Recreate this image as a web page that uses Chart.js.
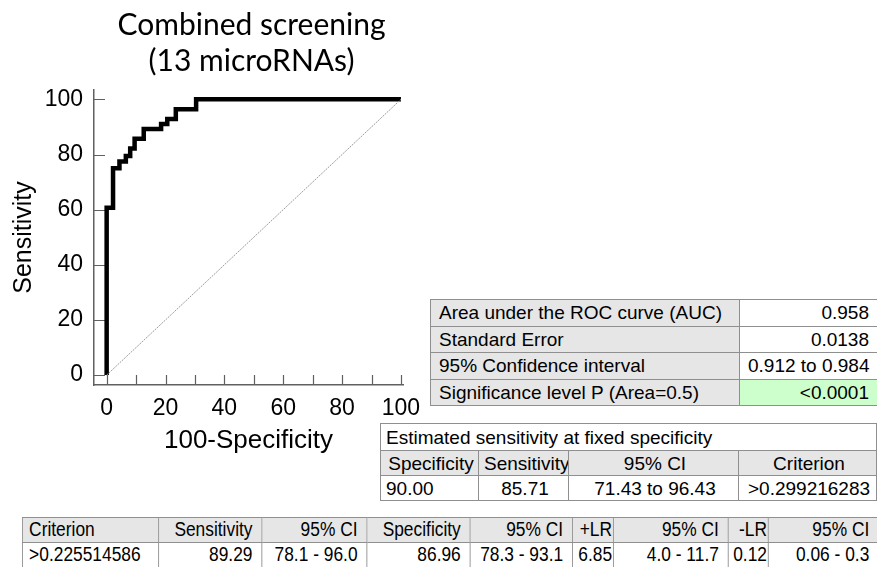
<!DOCTYPE html>
<html>
<head>
<meta charset="utf-8">
<title>Combined screening ROC</title>
<script src="https://cdn.jsdelivr.net/npm/chart.js@4.4.1/dist/chart.umd.min.js"></script>
<style>
    body { margin: 0; background: #fff; width: 877px; height: 567px; overflow: hidden; position: relative;
           font-family: "Liberation Sans", Arial, sans-serif; color: #000; }
    #roc { position: absolute; left: 0; top: 0; }
    table { position: absolute; border-collapse: collapse; table-layout: fixed; font-size: 19px; z-index: 2; background: #fff; }
    td { border: 1px solid #8f8f8f; padding: 0 8px; white-space: nowrap; overflow: hidden; line-height: 1; }
    .gray { background: #e6e6e6; }
    .green { background: #ccffcc; }
    .r { text-align: right; }
    .c { text-align: center; }
    #auc { left: 430px; top: 299px; width: 447px; }
    #auc tr { height: 26.5px; }
    #fixed { left: 380px; top: 423px; width: 496px; }
    #fixed tr { height: 25px; }
    #fixed tr:first-child { height: 27px; }
    #fixed td { padding: 0 2px 0 5px; }
    /* the bottom table uses a narrow face: lay it out wide, then squeeze it */
    #crit { left: 22px; top: 517px; width: 962px; font-size: 19.5px; transform: scaleX(0.89); transform-origin: 0 0; }
    #crit tr { height: 25px; }
    #crit td { padding: 0 10px 0 7px; text-align: right; }
    #crit td:first-child { text-align: left; }
    #crit td.tight { padding: 0 1px; }
</style>
</head>
<body>
<canvas id="roc" width="503" height="470"></canvas>

<table id="auc">
    <colgroup><col style="width:309px"><col style="width:138px"></colgroup>
    <tbody></tbody>
</table>

<table id="fixed">
    <colgroup><col style="width:98px"><col style="width:90px"><col style="width:170px"><col style="width:138px"></colgroup>
    <tbody></tbody>
</table>

<table id="crit">
    <colgroup>
        <col style="width:153px"><col style="width:116px"><col style="width:118px"><col style="width:116px">
        <col style="width:115px"><col style="width:46px"><col style="width:129px"><col style="width:45px"><col style="width:124px">
    </colgroup>
    <tbody></tbody>
</table>

<script>
// ROC curve (100-specificity vs sensitivity, %)
const rocFpr  = [0, 0, 2.17, 2.17, 4.35, 4.35, 6.52, 6.52, 8.0, 8.0, 9.5, 9.5, 12.6, 12.6, 18.5, 18.5, 20.6, 20.6, 23.5, 23.5, 30.4, 30.4, 100];
const rocSens = [0, 60.71, 60.71, 75.0, 75.0, 77.5, 77.5, 79.5, 79.5, 82.14, 82.14, 85.71, 85.71, 89.29, 89.29, 91.1, 91.1, 92.86, 92.86, 96.43, 96.43, 100, 100];

// chance line
const diagX = [0, 100];
const diagY = [0, 100];

// axis ticks
const xTickValues = [0, 20, 40, 60, 80, 100];
const xMinorTicks = [0, 10, 20, 30, 40, 50, 60, 70, 80, 90, 100];
const yTickValues = [0, 20, 40, 60, 80, 100];

const chartTitle = ['Combined screening', '(13 microRNAs)'];

// tables
const aucRows = [
    ['Area under the ROC curve (AUC)', '0.958'],
    ['Standard Error', '0.0138'],
    ['95% Confidence interval', '0.912 to 0.984'],
    ['Significance level P (Area=0.5)', '<0.0001']
];
const fixedCaption = 'Estimated sensitivity at fixed specificity';
const fixedHeader = ['Specificity', 'Sensitivity', '95% CI', 'Criterion'];
const fixedValues = ['90.00', '85.71', '71.43 to 96.43', '>0.299216283'];
const critHeader = ['Criterion', 'Sensitivity', '95% CI', 'Specificity', '95% CI', '+LR', '95% CI', '-LR', '95% CI'];
const critValues = ['>0.225514586', '89.29', '78.1 - 96.0', '86.96', '78.3 - 93.1', '6.85', '4.0 - 11.7', '0.12', '0.06 - 0.3'];

const axisColor = '#606060';

function toPoints(xs, ys) {
    return xs.map((v, i) => ({ x: v, y: ys[i] }));
}

function cell(text, cls) {
    const td = document.createElement('td');
    td.textContent = text;
    if (cls) td.className = cls;
    return td;
}

// fill the tables
const aucBody = document.querySelector('#auc tbody');
aucRows.forEach((row, i) => {
    const tr = document.createElement('tr');
    tr.appendChild(cell(row[0], 'gray'));
    tr.appendChild(cell(row[1], i === aucRows.length - 1 ? 'r green' : 'r'));
    aucBody.appendChild(tr);
});

const fixedBody = document.querySelector('#fixed tbody');
let tr = document.createElement('tr');
const cap = cell(fixedCaption);
cap.colSpan = 4;
tr.appendChild(cap);
fixedBody.appendChild(tr);
tr = document.createElement('tr');
fixedHeader.forEach(h => tr.appendChild(cell(h, 'gray c')));
fixedBody.appendChild(tr);
tr = document.createElement('tr');
fixedValues.forEach((v, i) => tr.appendChild(cell(v, i === 0 ? '' : 'c')));
fixedBody.appendChild(tr);

// +LR and -LR columns are narrow
const tightCols = [5, 7];
const critBody = document.querySelector('#crit tbody');
tr = document.createElement('tr');
critHeader.forEach((h, i) => tr.appendChild(cell(h, tightCols.includes(i) ? 'gray tight' : 'gray')));
critBody.appendChild(tr);
tr = document.createElement('tr');
critValues.forEach((v, i) => tr.appendChild(cell(v, tightCols.includes(i) ? 'tight' : '')));
critBody.appendChild(tr);

// tick marks pointing into the plot
const innerTicks = {
    id: 'innerTicks',
    beforeDatasetsDraw(chart) {
        const { ctx, chartArea, scales } = chart;
        ctx.save();
        ctx.strokeStyle = axisColor;
        ctx.lineWidth = 1.2;
        ctx.beginPath();
        xMinorTicks.forEach(v => {
            const px = Math.round(scales.x.getPixelForValue(v)) + 0.5;
            ctx.moveTo(px, chartArea.bottom);
            ctx.lineTo(px, chartArea.bottom - 10);
        });
        yTickValues.forEach(v => {
            const py = Math.round(scales.y.getPixelForValue(v)) + 0.5;
            ctx.moveTo(chartArea.left, py);
            ctx.lineTo(chartArea.left + 11, py);
        });
        ctx.stroke();
        ctx.restore();
    }
};

new Chart(document.getElementById('roc').getContext('2d'), {
    type: 'scatter',
    data: {
        datasets: [
            {
                data: toPoints(diagX, diagY),
                showLine: true,
                borderColor: '#9a9a9a',
                borderWidth: 1,
                borderDash: [2, 1],
                pointRadius: 0
            },
            {
                data: toPoints(rocFpr, rocSens),
                showLine: true,
                borderColor: '#000',
                borderWidth: 4.5,
                borderJoinStyle: 'miter',
                borderCapStyle: 'butt',
                pointRadius: 0,
                tension: 0
            }
        ]
    },
    options: {
        responsive: false,
        animation: false,
        devicePixelRatio: 1,
        layout: { padding: 0 },
        plugins: {
            legend: { display: false },
            tooltip: { enabled: false },
            title: {
                display: true,
                text: chartTitle,
                color: '#000',
                font: { family: 'Lato', size: 30, weight: 'normal', lineHeight: '36px' },
                padding: { top: 7, bottom: 11 }
            }
        },
        scales: {
            x: {
                type: 'linear',
                min: -4.3,
                max: 100.7,
                afterBuildTicks: s => { s.ticks = xTickValues.map(v => ({ value: v })); },
                afterFit: s => { s.height = 85; },
                grid: { display: false, drawTicks: false },
                border: { display: true, color: axisColor, width: 1.5 },
                ticks: { color: '#000', padding: 10, maxRotation: 0, font: { family: 'Liberation Sans', size: 23 } },
                title: {
                    display: true,
                    text: '100-Specificity',
                    color: '#000',
                    font: { family: 'Liberation Sans', size: 26 },
                    padding: { top: 0, bottom: 14 }
                }
            },
            y: {
                type: 'linear',
                min: -3.6,
                max: 103.4,
                afterBuildTicks: s => { s.ticks = yTickValues.map(v => ({ value: v })); },
                afterFit: s => { s.width = 94; },
                grid: { display: false, drawTicks: false },
                border: { display: true, color: axisColor, width: 1.5 },
                ticks: { color: '#000', padding: 11, font: { family: 'Liberation Sans', size: 23 } },
                title: {
                    display: true,
                    text: 'Sensitivity',
                    color: '#000',
                    font: { family: 'Liberation Sans', size: 25 },
                    padding: { top: 9, bottom: 0 }
                }
            },
            // empty box on the right so the plot ends where the tables begin
            spacer: {
                type: 'linear',
                position: 'right',
                afterFit: s => { s.width = 100; },
                grid: { display: false },
                border: { display: false },
                ticks: { display: false }
            }
        }
    },
    plugins: [innerTicks]
});
</script>
</body>
</html>
